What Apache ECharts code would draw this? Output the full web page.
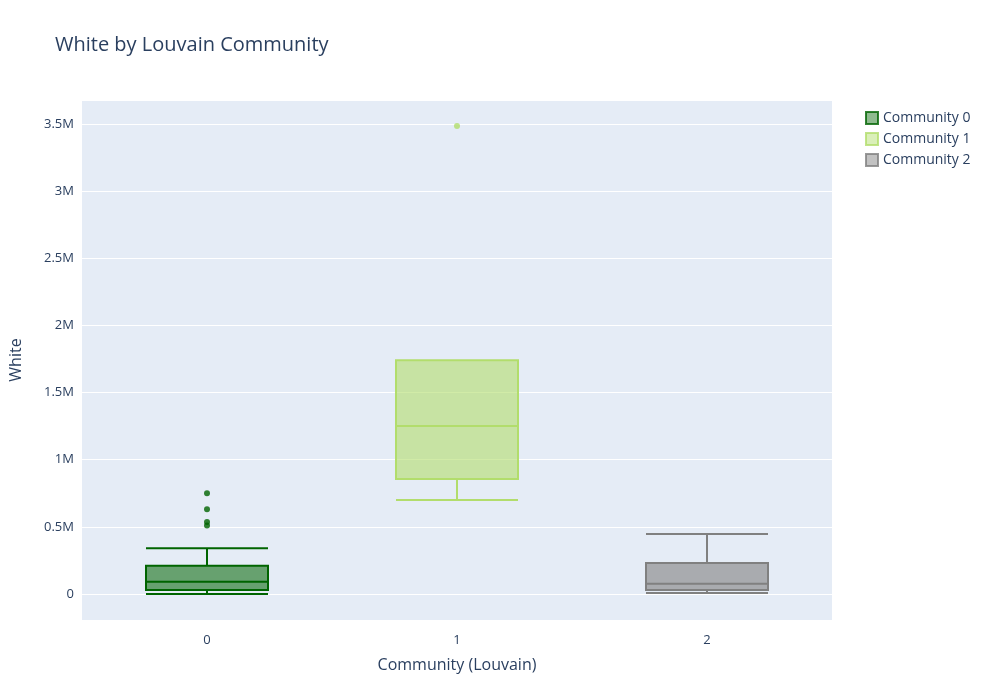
<!DOCTYPE html>
<html>
<head>
<meta charset="utf-8">
<script src="https://cdn.jsdelivr.net/npm/echarts@6/dist/echarts.min.js"></script>
<style>html,body{margin:0;padding:0;background:#fff}#chart{width:1000px;height:700px}</style>
</head>
<body>
<div id="chart"></div>
<script>
// values, in units of people
const categories = ['0', '1', '2']
const names = ['Community 0', 'Community 1', 'Community 2']
// [min, q1, median, q3, max]
const boxes = [
  [0, 30000, 90000, 210000, 340000],
  [700000, 856000, 1250000, 1740000, 1740000],
  [7000, 30000, 75000, 230000, 447000]
]
const outliers = [
  [[0, 750000], [0, 630000], [0, 535000], [0, 510000]],
  [[1, 3485000]],
  []
]
const strokes = ['#006400', '#b2dd6c', '#808080']
const fills = ['rgba(0,100,0,0.55)', 'rgba(178,221,108,0.6)', 'rgba(128,128,128,0.6)']

const chart = echarts.init(document.getElementById('chart'))
const fmt = v => v === 0 ? '0' : (v / 1e6) + 'M'

chart.setOption({
  backgroundColor: '#fff',
  textStyle: { fontFamily: 'Open Sans, sans-serif', color: '#2a3f5f' },
  title: {
    text: 'White by Louvain Community', left: 50, top: 30,
    textStyle: { fontSize: 20, fontWeight: 'normal', color: '#2a3f5f' }
  },
  legend: {
    orient: 'vertical', left: 860, top: 106, itemGap: 7, itemWidth: 12, itemHeight: 12,
    textStyle: { fontSize: 14, color: '#2a3f5f' },
    data: names.map((n, i) => ({
      name: n, icon: 'rect',
      itemStyle: { color: fills[i], borderColor: strokes[i], borderWidth: 2 }
    }))
  },
  grid: { left: 80, right: 168, top: 100, bottom: 80, backgroundColor: '#e5ecf6', show: true, borderWidth: 0 },
  xAxis: {
    type: 'category', data: categories,
    name: 'Community (Louvain)', nameLocation: 'middle', nameGap: 37,
    nameTextStyle: { fontSize: 16, color: '#2a3f5f' },
    axisLine: { show: false }, axisTick: { show: false },
    axisLabel: { fontSize: 13, color: '#2a3f5f', margin: 14 },
    splitLine: { show: false }
  },
  yAxis: {
    type: 'value', min: -194000, max: 3678000, splitNumber: 8,
    name: 'White', nameLocation: 'middle', nameGap: 58,
    nameTextStyle: { fontSize: 16, color: '#2a3f5f' },
    axisLine: { show: false }, axisTick: { show: false },
    axisLabel: { fontSize: 13, color: '#2a3f5f', formatter: fmt, showMinLabel: false, showMaxLabel: false },
    splitLine: { lineStyle: { color: '#fff', width: 1 } }
  },
  series: [
    {
      type: 'boxplot', name: 'boxes', boxWidth: [122, 122],
      data: boxes.map((b, i) => ({
        value: b,
        itemStyle: { color: fills[i], borderColor: strokes[i], borderWidth: 2 }
      }))
    },
    ...names.map((n, i) => ({
      type: 'scatter', name: n, symbolSize: 6,
      itemStyle: { color: strokes[i] },
      data: outliers[i]
    }))
  ]
})
</script>
</body>
</html>
